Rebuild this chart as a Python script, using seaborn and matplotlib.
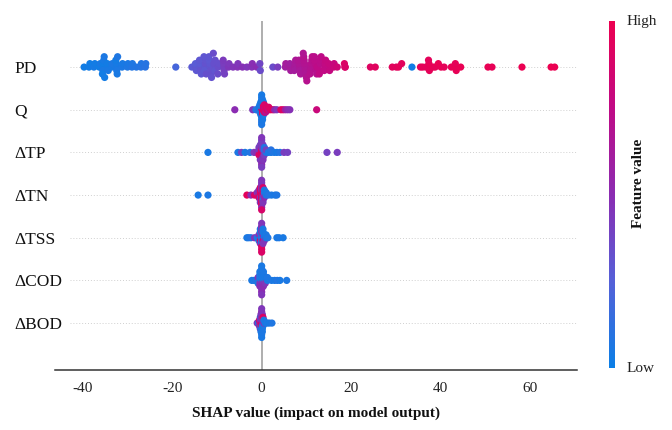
import numpy as np
import pandas as pd
import matplotlib
matplotlib.use("Agg")
import matplotlib.pyplot as plt
import seaborn as sns
from matplotlib.colors import LinearSegmentedColormap, Normalize

# ---------------- data ----------------
features = ["PD", "Q", "ΔTP", "ΔTN", "ΔTSS", "ΔCOD", "ΔBOD"]
x_ticks = [-40, -20, 0, 20, 40, 60]
x_label = "SHAP value (impact on model output)"
cbar_label = "Feature value"
cbar_ticklabels = ["Low", "High"]

pd_shap = [
    -39.7, -38.6, -38.4, -37.5, -37.3, -36.3, -36.1,
    -35.4, -35.4, -35.5, -35.3, -35.6, -35.2, -35.1,
    -34.4, -34.5, -34.3, -33.5, -33.4,
    -32.5, -32.5, -32.4, -32.6, -32.3, -32.2,
    -31.2, -31.1, -30.0, -29.9, -29.0, -28.9, -28.0, -27.0, -26.9, -26.0, -25.9,
    -19.2,
    -15.6, -14.7, -14.8, -14.6,
    -13.7, -13.8, -13.6, -13.9, -13.5,
    -12.7, -12.6, -12.8, -12.5, -12.9, -12.4,
    -11.5, -11.6, -11.4, -11.7, -11.3, -11.8, -11.2,
    -10.6, -10.7, -10.5, -10.8, -10.4,
    -9.7, -9.8, -9.6,
    -8.5, -8.5, -8.4, -8.6, -8.3,
    -7.4, -7.3, -6.4, -5.4, -5.3, -4.3, -3.3, -2.2, -2.1, -1.1, -0.4, -0.3,
    2.5, 3.6,
    5.3, 5.4, 6.4, 6.3, 6.5, 7.4, 7.5, 7.3, 7.6,
    8.5, 8.4, 8.6, 8.3, 8.7,
    9.7, 9.6, 9.8, 9.5, 9.9, 9.4, 10.0, 9.3, 10.1,
    11.0, 11.1, 10.9, 11.2, 10.8, 11.3,
    12.1, 12.0, 12.2, 11.9, 12.3, 11.8, 12.4,
    13.1, 13.0, 13.2, 12.9, 13.3,
    14.1, 14.2, 14.0, 14.3,
    15.1, 15.0, 15.2, 16.1, 16.2, 16.9,
    18.6, 18.5, 18.7,
    24.3, 25.4, 29.2, 30.1, 30.6, 31.3,
    33.6,
    35.5, 36.0, 36.7, 37.4, 37.5, 37.3, 38.3, 38.8, 39.5, 40.1, 40.8,
    42.4, 43.4, 43.3, 43.5, 44.5,
    50.6, 51.5, 58.2, 64.7, 65.5,
]
pd_feat = [
    0.02, 0.03, 0.02, 0.04, 0.03, 0.02, 0.05,
    0.03, 0.02, 0.05, 0.04, 0.02, 0.06, 0.03,
    0.04, 0.03, 0.05, 0.04, 0.06,
    0.05, 0.04, 0.06, 0.03, 0.05, 0.07,
    0.06, 0.05, 0.07, 0.06, 0.08, 0.07, 0.08, 0.09, 0.08, 0.10, 0.09,
    0.20,
    0.28, 0.30, 0.27, 0.29,
    0.30, 0.28, 0.31, 0.29, 0.30,
    0.30, 0.32, 0.29, 0.31, 0.30, 0.33,
    0.31, 0.30, 0.32, 0.29, 0.33, 0.30, 0.32,
    0.32, 0.33, 0.31, 0.34, 0.33,
    0.34, 0.35, 0.33,
    0.40, 0.42, 0.41, 0.43, 0.40,
    0.45, 0.44, 0.46, 0.47, 0.45, 0.48, 0.46, 0.47, 0.49, 0.50, 0.38, 0.35,
    0.35, 0.42,
    0.60, 0.62, 0.63, 0.60, 0.62, 0.64, 0.63, 0.62, 0.65,
    0.65, 0.66, 0.64, 0.67, 0.65,
    0.66, 0.68, 0.67, 0.69, 0.66, 0.70, 0.68, 0.67, 0.70,
    0.68, 0.70, 0.69, 0.71, 0.70, 0.72,
    0.70, 0.72, 0.71, 0.73, 0.70, 0.72, 0.74,
    0.72, 0.74, 0.73, 0.75, 0.74,
    0.74, 0.76, 0.75, 0.77,
    0.76, 0.78, 0.77, 0.80, 0.79, 0.82,
    0.88, 0.90, 0.89,
    0.92, 0.93, 0.94, 0.93, 0.95, 0.94,
    0.02,
    0.95, 0.96, 0.95, 0.97, 0.96, 0.95, 0.97, 0.96, 0.98, 0.97, 0.96,
    0.97, 0.98, 0.96, 0.97, 0.98,
    0.98, 0.97, 0.99, 1.00, 0.99,
]

q_shap = [
    -6.0, -2.0, -1.3,
    -0.6, -0.6,
    -0.4, -0.4, -0.4, -0.4,
    -0.2, -0.2, -0.2, -0.2, -0.2, -0.2,
    0.0, 0.0, 0.0, 0.0, 0.0, 0.0, 0.0, 0.0, 0.0, 0.0, 0.0, 0.0, 0.0,
    0.2, 0.2, 0.2, 0.2, 0.2, 0.2, 0.2, 0.2, 0.2,
    0.4, 0.4, 0.4, 0.4, 0.4, 0.4,
    0.6, 0.6, 0.6, 0.6,
    0.9, 0.9, 0.9, 1.2, 1.2, 1.6, 1.6, 2.0, 2.5, 2.9, 3.4,
    4.3, 4.8, 5.3, 5.8, 6.3, 12.3,
]
q_feat = [
    0.50, 0.45, 0.10,
    0.05, 0.08,
    0.05, 0.04, 0.08, 0.06,
    0.05, 0.03, 0.06, 0.04, 0.07, 0.05,
    0.90, 0.05, 0.04, 0.06, 0.03, 0.05, 0.07, 0.04, 0.06, 0.05, 0.08, 0.04, 0.06,
    0.92, 0.05, 0.90, 0.06, 0.88, 0.05, 0.04, 0.06, 0.05,
    0.93, 0.90, 0.88, 0.92, 0.06, 0.05,
    0.92, 0.75, 0.90, 0.88,
    0.93, 0.90, 0.70, 0.92, 0.88, 0.70, 0.90, 0.91, 0.93, 0.55, 0.45,
    0.92, 0.90, 0.60, 0.50, 0.48, 0.80,
]

tp_shap = [
    -12.0, -5.3, -4.5, -3.7, -2.6, -1.7, -1.0,
    -0.6, -0.6, -0.6, -0.6,
    -0.3, -0.3, -0.3, -0.3, -0.3, -0.3, -0.3,
    0.0, 0.0, 0.0, 0.0, 0.0, 0.0, 0.0, 0.0, 0.0, 0.0, 0.0, 0.0, 0.0,
    0.3, 0.3, 0.3, 0.3, 0.3, 0.3, 0.3,
    0.6, 0.6, 0.6, 0.6,
    1.0, 1.0, 1.5, 2.1, 2.1, 2.8, 3.4, 4.1, 5.0, 5.8, 14.6, 16.9,
]
tp_feat = [
    0.05, 0.06, 0.40, 0.05, 0.08, 0.45, 0.50,
    0.45, 0.40, 0.90, 0.42,
    0.85, 0.50, 0.90, 0.45, 0.92, 0.40, 0.45,
    0.95, 0.90, 0.92, 0.50, 0.88, 0.45, 0.40, 0.42, 0.45, 0.40, 0.50, 0.45, 0.42,
    0.90, 0.45, 0.88, 0.40, 0.50, 0.42, 0.45,
    0.45, 0.10, 0.40, 0.08,
    0.08, 0.40, 0.06, 0.05, 0.10, 0.07, 0.05, 0.08, 0.42, 0.40, 0.40, 0.42,
]

tn_shap = [
    -14.2, -12.0, -3.3, -2.4, -1.6, -1.0, -1.0,
    -0.6, -0.6, -0.6, -0.6,
    -0.3, -0.3, -0.3, -0.3, -0.3, -0.3, -0.3,
    0.0, 0.0, 0.0, 0.0, 0.0, 0.0, 0.0, 0.0, 0.0, 0.0, 0.0, 0.0, 0.0,
    0.3, 0.3, 0.3, 0.3, 0.3, 0.3, 0.3,
    0.6, 0.6, 0.6, 0.6,
    1.0, 1.0, 1.5, 2.2, 3.0, 3.4,
]
tn_feat = [
    0.05, 0.06, 0.95, 0.50, 0.90, 0.92, 0.45,
    0.90, 0.50, 0.88, 0.45,
    0.95, 0.90, 0.45, 0.92, 0.50, 0.90, 0.45,
    0.95, 0.92, 0.90, 0.50, 0.94, 0.45, 0.90, 0.50, 0.92, 0.45, 0.50, 0.45, 0.88,
    0.50, 0.92, 0.45, 0.90, 0.10, 0.88, 0.45,
    0.45, 0.08, 0.50, 0.06,
    0.06, 0.05, 0.08, 0.06, 0.05, 0.07,
]

tss_shap = [
    -3.3, -2.9, -2.4, -1.6, -1.0,
    -0.6, -0.6, -0.6,
    -0.3, -0.3, -0.3, -0.3, -0.3, -0.3,
    0.0, 0.0, 0.0, 0.0, 0.0, 0.0, 0.0, 0.0, 0.0, 0.0, 0.0,
    0.3, 0.3, 0.3, 0.3, 0.3, 0.3,
    0.6, 0.6, 0.6,
    1.0, 1.0, 1.4, 3.4, 3.9, 4.8,
]
tss_feat = [
    0.05, 0.06, 0.08, 0.45, 0.06,
    0.05, 0.45, 0.06,
    0.07, 0.45, 0.90, 0.05, 0.50, 0.06,
    0.06, 0.05, 0.08, 0.45, 0.06, 0.45, 0.90, 0.50, 0.92, 0.45, 0.90,
    0.05, 0.50, 0.90, 0.06, 0.45, 0.05,
    0.07, 0.05, 0.45,
    0.05, 0.06, 0.07, 0.05, 0.06, 0.05,
]

cod_shap = [
    -2.2, -1.7, -1.2,
    -0.8, -0.8, -0.8,
    -0.4, -0.4, -0.4, -0.4, -0.4, -0.4,
    0.0, 0.0, 0.0, 0.0, 0.0, 0.0, 0.0, 0.0, 0.0, 0.0, 0.0,
    0.4, 0.4, 0.4, 0.4, 0.4, 0.4,
    0.8, 0.8, 0.8,
    1.3, 1.3, 2.2, 2.9, 3.5, 4.1, 5.6,
]
cod_feat = [
    0.05, 0.06, 0.08,
    0.05, 0.45, 0.06,
    0.06, 0.05, 0.45, 0.07, 0.50, 0.05,
    0.05, 0.06, 0.45, 0.05, 0.50, 0.07, 0.45, 0.06, 0.50, 0.05, 0.45,
    0.05, 0.06, 0.45, 0.05, 0.50, 0.06,
    0.06, 0.05, 0.45,
    0.05, 0.07, 0.06, 0.05, 0.08, 0.05, 0.06,
]

bod_shap = [
    -1.0, -0.7,
    -0.5, -0.5, -0.5,
    -0.3, -0.3, -0.3, -0.3, -0.3,
    -0.15, -0.15, -0.15, -0.15, -0.15, -0.15, -0.15,
    0.0, 0.0, 0.0, 0.0, 0.0, 0.0, 0.0, 0.0, 0.0, 0.0, 0.0,
    0.15, 0.15, 0.15, 0.15, 0.15, 0.15, 0.15,
    0.3, 0.3, 0.3, 0.3,
    0.5, 0.5, 0.8, 1.2, 1.7, 2.3,
]
bod_feat = [
    0.45, 0.06,
    0.50, 0.90, 0.45,
    0.45, 0.50, 0.90, 0.06, 0.45,
    0.90, 0.45, 0.06, 0.50, 0.05, 0.45, 0.06,
    0.90, 0.45, 0.92, 0.50, 0.06, 0.45, 0.05, 0.50, 0.06, 0.45, 0.05,
    0.90, 0.45, 0.08, 0.50, 0.05, 0.45, 0.06,
    0.45, 0.50, 0.06, 0.90,
    0.45, 0.06, 0.05, 0.06, 0.05, 0.07,
]

series = {
    "PD": (pd_shap, pd_feat),
    "Q": (q_shap, q_feat),
    "ΔTP": (tp_shap, tp_feat),
    "ΔTN": (tn_shap, tn_feat),
    "ΔTSS": (tss_shap, tss_feat),
    "ΔCOD": (cod_shap, cod_feat),
    "ΔBOD": (bod_shap, bod_feat),
}


# ---------------- beeswarm layout (shap style binning) ----------------
def beeswarm_offsets(vals, nbins=100, row_height=0.45):
    vals = np.asarray(vals, dtype=float)
    quant = np.round(nbins * (vals - vals.min()) / (vals.max() - vals.min() + 1e-8))
    order = np.argsort(quant, kind="stable")
    ys = np.zeros(len(vals))
    layer, last = 0, None
    for i in order:
        if quant[i] != last:
            layer = 0
        ys[i] = np.ceil(layer / 2) * ((layer % 2) * 2 - 1)
        layer += 1
        last = quant[i]
    ys *= 0.9 * (row_height / np.max(ys + 1))
    return ys


n = len(features)
frames = []
for i, f in enumerate(features):
    s, v = series[f]
    assert len(s) == len(v), f
    row = n - 1 - i
    frames.append(pd.DataFrame({
        "feature": f,
        "shap": s,
        "value": v,
        "y": row + beeswarm_offsets(s),
    }))
df = pd.concat(frames, ignore_index=True)

# ---------------- style ----------------
sns.set_style("white")
plt.rcParams["font.family"] = ["Liberation Serif", "DejaVu Serif"]

cmap = LinearSegmentedColormap.from_list(
    "shap_rb", ["#0b7fe6", "#5560d8", "#8b2cb2", "#c00a85", "#ec0050"])

fig = plt.figure(figsize=(6.72, 4.30), dpi=100)
ax = fig.add_axes([55 / 672, 60 / 430, 522 / 672, 349 / 430])

for r in range(n):
    ax.axhline(r, xmin=0.029, color="#d0d0d0", lw=0.7,
               linestyle=(0, (1, 2)), zorder=0)
ax.axvline(0, color="#999999", lw=1.1, zorder=1)

sns.scatterplot(data=df, x="shap", y="y", hue="value", palette=cmap,
                hue_norm=(0, 1), s=27, linewidth=0, legend=False,
                ax=ax, zorder=3)

ax.set_xlim(-46.2, 70.5)
ax.set_ylim(-1.1, 7.08)
ax.set_xticks(x_ticks)
ax.set_xticklabels([str(t) for t in x_ticks])
ax.set_yticks(range(n))
ax.set_yticklabels(features[::-1], fontsize=12.5, color="#111111")
for lab in ax.get_yticklabels():
    lab.set_horizontalalignment("left")
ax.tick_params(axis="y", length=0, pad=29)
ax.tick_params(axis="x", labelsize=11, length=4, width=1, color="#333333",
               labelcolor="#222222", pad=5)
ax.set_xlabel(x_label, fontsize=11, fontweight="bold", labelpad=8,
              color="#111111")
ax.set_ylabel("")
for side in ["left", "top", "right"]:
    ax.spines[side].set_visible(False)
ax.spines["bottom"].set_color("#333333")
ax.spines["bottom"].set_linewidth(1.1)

# colour bar
cax = fig.add_axes([609 / 672, (430 - 368) / 430, 6 / 672, 347 / 430])
cb = matplotlib.colorbar.ColorbarBase(cax, cmap=cmap, norm=Normalize(0, 1))
cb.set_ticks([0, 1])
cb.set_ticklabels(cbar_ticklabels)
cb.ax.tick_params(length=0, labelsize=11, pad=8, labelcolor="#222222")
cb.outline.set_visible(False)
for lab in cb.ax.get_yticklabels():
    lab.set_verticalalignment("center")
fig.text(638 / 672, 1 - 183 / 430, cbar_label, rotation=90, ha="center",
         va="center", fontsize=11, fontweight="bold", color="#111111")

fig.savefig("out.png", dpi=100)
